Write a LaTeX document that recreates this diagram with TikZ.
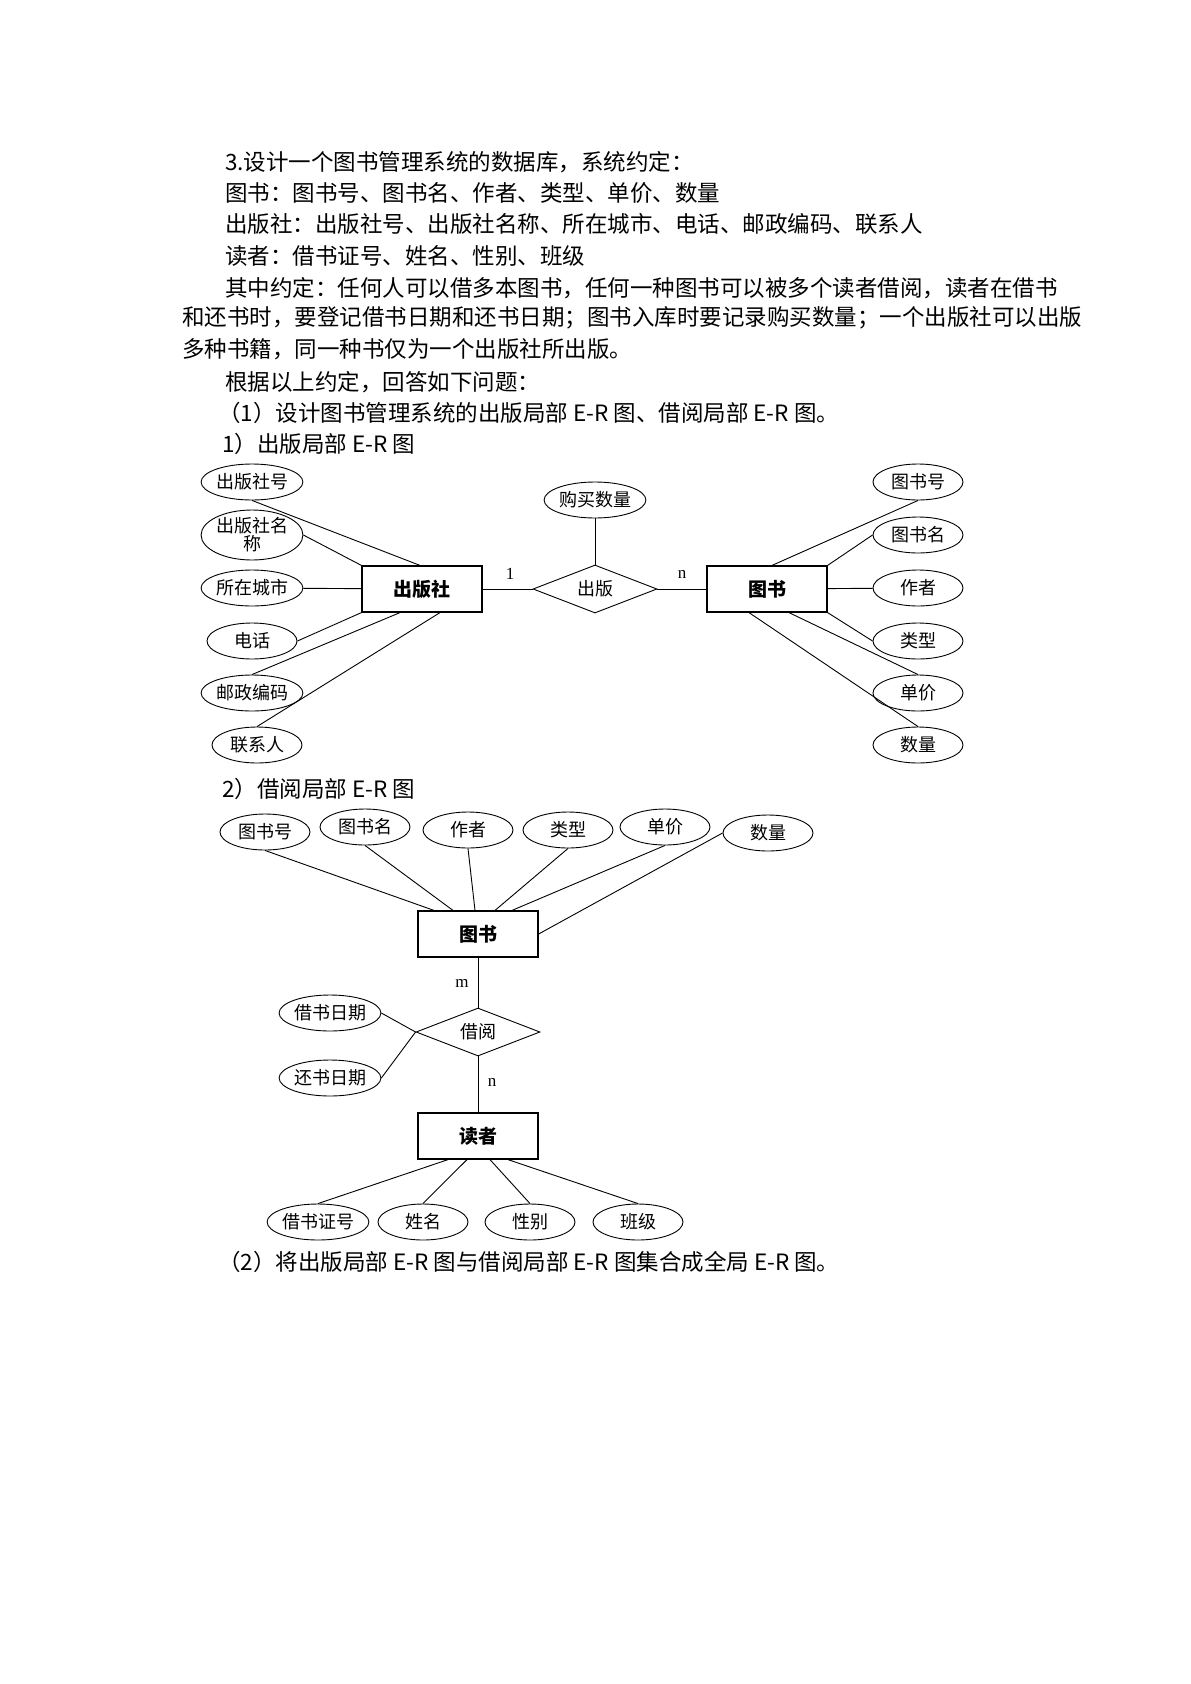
\documentclass[tikz,border=0pt]{standalone}
\usepackage{fontspec}
\setmainfont{Liberation Serif}
\newfontfamily\cjk{Noto Sans CJK SC}
\usetikzlibrary{shapes.geometric}
\begin{document}
\begin{tikzpicture}[x=1pt,y=-1pt,
  txt/.style={anchor=west,inner sep=0pt,font=\cjk\fontsize{22.5}{22.5}\selectfont},
  attr/.style={draw,ellipse,minimum width=90pt,minimum height=36pt,inner sep=0pt,line width=0.9pt,font=\cjk\fontsize{18}{18}\selectfont},
  ent/.style={draw,rectangle,minimum width=120pt,minimum height=46pt,line width=1.2pt,font=\cjk\bfseries\fontsize{19}{19}\selectfont},
  rel/.style={draw,diamond,aspect=2.6,minimum width=124pt,minimum height=48pt,inner sep=0pt,line width=0.9pt,font=\cjk\fontsize{18}{18}\selectfont},
  lnk/.style={line width=0.9pt},
  card/.style={font=\fontsize{17}{17}\selectfont}]
\useasboundingbox[fill=white] (0,0) rectangle (1191,1684);
% text
\node[txt] (t1) at (225,162) {3.设计一个图书管理系统的数据库，系统约定：};
\node[txt] (t2) at (225,193) {图书：图书号、图书名、作者、类型、单价、数量};
\node[txt] (t3) at (225,224) {出版社：出版社号、出版社名称、所在城市、电话、邮政编码、联系人};
\node[txt] (t4) at (225,256) {读者：借书证号、姓名、性别、班级};
\node[txt] (t5) at (225,288) {其中约定：任何人可以借多本图书，任何一种图书可以被多个读者借阅，读者在借书};
\node[txt] (t6) at (182,318) {和还书时，要登记借书日期和还书日期；图书入库时要记录购买数量；一个出版社可以出版};
\node[txt] (t7) at (182,349) {多种书籍，同一种书仅为一个出版社所出版。};
\node[txt] (t8) at (225,382) {根据以上约定，回答如下问题：};
\node[txt] (t9) at (218,413) {（1）设计图书管理系统的出版局部 E-R 图、借阅局部 E-R 图。};
\node[txt] (t10) at (222,444) {1）出版局部 E-R 图};
\node[txt] (t11) at (222,789) {2）借阅局部 E-R 图};
\node[txt] (t12) at (218,1262) {（2）将出版局部 E-R 图与借阅局部 E-R 图集合成全局 E-R 图。};
% diagram 1
\node[ent] (pub) at (422,589) {出版社};
\node[rel] (cb) at (595,589) {出版};
\node[ent] (bk) at (767,589) {图书};
\node[attr] (gm) at (595,500) {购买数量};
\node[attr] (p1) at (252,482) {出版社号};
\node[attr,minimum height=50pt,align=center,font=\cjk\fontsize{18}{18}\selectfont] (p2) at (252,535) {出版社名\\称};
\node[attr] (p3) at (252,588) {所在城市};
\node[attr] (p4) at (252,641) {电话};
\node[attr] (p5) at (252,693) {邮政编码};
\node[attr] (p6) at (257,745) {联系人};
\node[attr] (b1) at (918,482) {图书号};
\node[attr] (b2) at (918,535) {图书名};
\node[attr] (b3) at (918,588) {作者};
\node[attr] (b4) at (918,641) {类型};
\node[attr] (b5) at (918,693) {单价};
\node[attr] (b6) at (918,745) {数量};
\draw[lnk] (pub) -- (cb) (cb) -- (bk) (gm) -- (cb.north);
\draw[lnk] (p1.south) -- ([xshift=-2pt]pub.north);
\draw[lnk] (p2.east) -- (pub.north west);
\draw[lnk] (p3) -- (pub);
\draw[lnk] (p4.east) -- (pub.south west);
\draw[lnk] (p5.north) -- ([xshift=-22pt]pub.south);
\draw[lnk] (p6.north) -- ([xshift=18pt]pub.south);
\draw[lnk] (b1.south) -- ([xshift=5pt]bk.north);
\draw[lnk] (b2.west) -- (bk.north east);
\draw[lnk] (b3) -- (bk);
\draw[lnk] (b4.west) -- (bk.south east);
\draw[lnk] (b5.north) -- ([xshift=22pt]bk.south);
\draw[lnk] (b6.north) -- ([xshift=-18pt]bk.south);
\node[card] (c1) at (510,574) {1};
\node[card] (c2) at (682,574) {n};
% diagram 2
\node[ent] (bk2) at (478,934) {图书};
\node[rel] (jy) at (478,1032) {借阅};
\node[ent] (dz) at (478,1136) {读者};
\node[attr] (a1) at (265,832) {图书号};
\node[attr] (a2) at (365,827) {图书名};
\node[attr] (a3) at (468,830) {作者};
\node[attr] (a4) at (568,830) {类型};
\node[attr] (a5) at (665,827) {单价};
\node[attr] (a6) at (768,833) {数量};
\draw[lnk] (a1.south) -- ([xshift=-44pt]bk2.north);
\draw[lnk] (a2.south) -- ([xshift=-25pt]bk2.north);
\draw[lnk] (a3.south) -- ([xshift=-3pt]bk2.north);
\draw[lnk] (a4.south) -- ([xshift=17pt]bk2.north);
\draw[lnk] (a5.south) -- ([xshift=34pt]bk2.north);
\draw[lnk] (a6.west) -- (bk2.east);
\draw[lnk] (bk2) -- (jy) (jy) -- (dz);
\node[attr] (d1) at (330,1013) {借书日期};
\node[attr] (d2) at (330,1078) {还书日期};
\draw[lnk] (d1.east) -- (jy.west);
\draw[lnk] (d2.east) -- (jy.west);
\node[card] (c3) at (462,983) {m};
\node[card] (c4) at (492,1082) {n};
\node[attr] (r1) at (318,1222) {借书证号};
\node[attr] (r2) at (423,1222) {姓名};
\node[attr] (r3) at (530,1222) {性别};
\node[attr] (r4) at (638,1222) {班级};
\draw[lnk] (r1.north) -- ([xshift=-30pt]dz.south);
\draw[lnk] (r2.north) -- ([xshift=-11pt]dz.south);
\draw[lnk] (r3.north) -- ([xshift=12pt]dz.south);
\draw[lnk] (r4.north) -- ([xshift=30pt]dz.south);
\end{tikzpicture}
\end{document}
